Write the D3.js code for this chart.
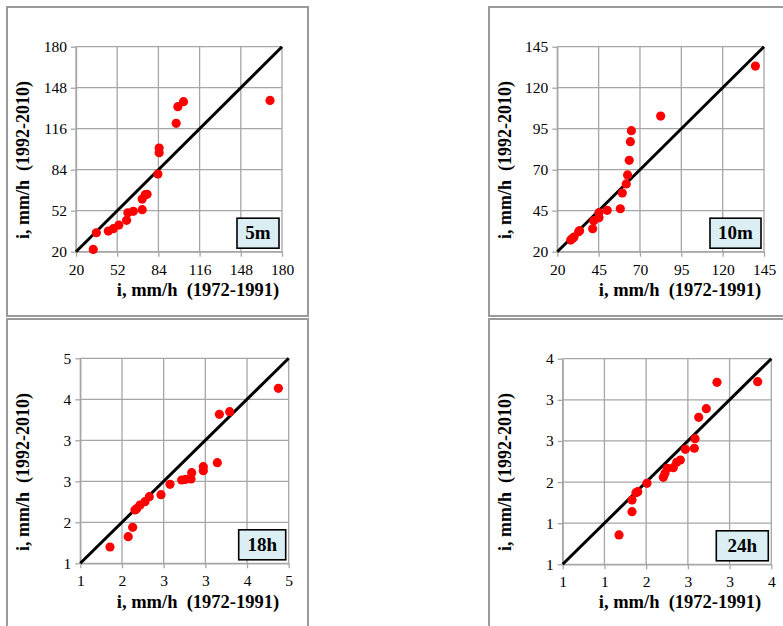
<!DOCTYPE html>
<html>
<head>
<meta charset="utf-8">
<script src="https://cdn.jsdelivr.net/npm/d3@7"></script>
<style>
  body { margin: 0; background: #fff; }
</style>
</head>
<body>
<script>
// Panel labels and axis ticks
const labels = ['5m', '10m', '18h', '24h'];
const ticks5m = [20, 52, 84, 116, 148, 180];
const ticks10m = [20, 45, 70, 95, 120, 145];
const ticks18h = [1, 1.8, 2.6, 3.4, 4.2, 5];
const ticks24h = [0.8, 1.4, 2.0, 2.6, 3.2, 3.8];

// i, mm/h (1972-1991) vs i, mm/h (1992-2010)
const x5m = [33.4, 35.8, 45.1, 49.0, 53.3, 59.3, 60.3, 64.5, 71.4, 71.4, 73.8, 75.2, 83.6, 84.6, 84.6, 97.8, 99.1, 103.5, 170.7];
const y5m = [21.8, 34.8, 36.1, 38.0, 40.8, 44.5, 50.4, 51.5, 52.8, 61.1, 64.5, 64.8, 80.6, 97.3, 100.9, 120.2, 133.2, 137.1, 138.1];

const x10m = [28.1, 29.2, 30.1, 32.9, 33.5, 41.4, 42.0, 45.2, 45.2, 50.2, 58.1, 59.3, 61.7, 62.5, 63.5, 64.2, 64.8, 82.5, 139.8];
const y10m = [27.1, 28.0, 28.9, 32.2, 32.8, 34.0, 38.9, 40.7, 43.8, 45.2, 46.2, 55.8, 61.3, 66.8, 75.7, 87.1, 93.8, 102.7, 133.2];

const x18h = [1.57, 1.92, 2.005, 2.05, 2.082, 2.146, 2.242, 2.325, 2.549, 2.722, 2.946, 3.023, 3.125, 3.138, 3.361, 3.361, 3.63, 3.669, 3.867, 4.802];
const y18h = [1.318, 1.519, 1.702, 2.04, 2.066, 2.138, 2.202, 2.30, 2.339, 2.541, 2.625, 2.639, 2.645, 2.768, 2.807, 2.885, 2.963, 3.907, 3.959, 4.415];

const x24h = [1.61, 1.797, 1.797, 1.854, 1.879, 2.012, 2.247, 2.271, 2.305, 2.391, 2.44, 2.492, 2.564, 2.693, 2.703, 2.756, 2.865, 3.019, 3.604];
const y24h = [1.228, 1.568, 1.738, 1.845, 1.86, 1.981, 2.069, 2.128, 2.201, 2.21, 2.288, 2.322, 2.478, 2.493, 2.633, 2.945, 3.071, 3.456, 3.465];

const xTitle = 'i, mm/h  (1972-1991)';
const yTitle = 'i, mm/h  (1992-2010)';

const width = 783;
const height = 626;
const serif = 'Liberation Serif';

const svg = d3.select('body')
  .append('svg')
  .attr('width', width)
  .attr('height', height)
  .attr('font-family', serif);

// frame = outer box, plot = plot area, boxW = label box width
const panels = [
  { label: labels[0], ticks: ticks5m, xs: x5m, ys: y5m, fx: 7, fy: 7, plot: [76, 46.7, 282, 251.7], boxW: 42 },
  { label: labels[1], ticks: ticks10m, xs: x10m, ys: y10m, fx: 489, fy: 7, plot: [557.3, 46.7, 764, 251.7], boxW: 51 },
  { label: labels[2], ticks: ticks18h, xs: x18h, ys: y18h, fx: 7, fy: 319, plot: [80.3, 358.3, 288.7, 563.3], boxW: 47 },
  { label: labels[3], ticks: ticks24h, xs: x24h, ys: y24h, fx: 489, fy: 319, plot: [562.7, 358.7, 771.3, 564.3], boxW: 52 }
];

const fmt = d3.format('.0f');
const gridColor = '#a6a6a6';

panels.forEach(p => {
  const g = svg.append('g');

  // outer frame
  g.append('rect')
    .attr('x', p.fx)
    .attr('y', p.fy)
    .attr('width', 301)
    .attr('height', 309)
    .attr('fill', 'none')
    .attr('stroke', '#9a9a9a')
    .attr('stroke-width', 2);

  const [x0, y0, x1, y1] = p.plot;
  const lo = p.ticks[0], hi = p.ticks[p.ticks.length - 1];
  const x = d3.scaleLinear().domain([lo, hi]).range([x0, x1]);
  const y = d3.scaleLinear().domain([lo, hi]).range([y1, y0]);

  // grid
  g.selectAll('.vgrid')
    .data(p.ticks)
    .enter().append('line')
    .attr('x1', d => x(d)).attr('x2', d => x(d))
    .attr('y1', y0).attr('y2', y1)
    .attr('stroke', gridColor)
    .attr('stroke-width', 1.3);

  g.selectAll('.hgrid')
    .data(p.ticks)
    .enter().append('line')
    .attr('x1', x0).attr('x2', x1)
    .attr('y1', d => y(d)).attr('y2', d => y(d))
    .attr('stroke', gridColor)
    .attr('stroke-width', 1.3);

  // axes
  const xAxis = g.append('g')
    .attr('transform', `translate(0,${y1})`)
    .call(d3.axisBottom(x).tickValues(p.ticks).tickFormat(fmt).tickSizeInner(5).tickSizeOuter(0).tickPadding(7));
  const yAxis = g.append('g')
    .attr('transform', `translate(${x0},0)`)
    .call(d3.axisLeft(y).tickValues(p.ticks).tickFormat(fmt).tickSizeInner(5).tickSizeOuter(0).tickPadding(4));

  [xAxis, yAxis].forEach(a => {
    a.attr('font-family', serif).attr('font-size', 15.5);
    a.select('.domain').attr('stroke', gridColor).attr('stroke-width', 1.3);
    a.selectAll('.tick line').attr('stroke', gridColor).attr('stroke-width', 1.3);
    a.selectAll('.tick text').attr('fill', '#000');
  });

  // 1:1 line
  g.append('line')
    .attr('x1', x(lo)).attr('y1', y(lo))
    .attr('x2', x(hi)).attr('y2', y(hi))
    .attr('stroke', '#000')
    .attr('stroke-width', 3);

  // points
  g.selectAll('circle')
    .data(p.xs.map((v, i) => [v, p.ys[i]]))
    .enter().append('circle')
    .attr('cx', d => x(d[0]))
    .attr('cy', d => y(d[1]))
    .attr('r', 4.6)
    .attr('fill', '#ff0000');

  // label box
  const bx = x1 - 3 - p.boxW;
  const by = y1 - 3.5 - 30;
  g.append('rect')
    .attr('x', bx).attr('y', by)
    .attr('width', p.boxW).attr('height', 30)
    .attr('fill', '#dbeef4')
    .attr('stroke', '#000')
    .attr('stroke-width', 1.6);
  g.append('text')
    .attr('x', bx + p.boxW / 2)
    .attr('y', by + 21)
    .attr('text-anchor', 'middle')
    .attr('font-size', 19)
    .attr('font-weight', 'bold')
    .text(p.label);

  // axis titles
  g.append('text')
    .attr('x', p.fx + 191)
    .attr('y', p.fy + 289)
    .attr('text-anchor', 'middle')
    .attr('font-size', 18.5)
    .attr('font-weight', 'bold')
    .style('white-space', 'pre')
    .text(xTitle);

  g.append('text')
    .attr('transform', `translate(${p.fx + 22},${p.fy + 153}) rotate(-90)`)
    .attr('text-anchor', 'middle')
    .attr('font-size', 18)
    .attr('font-weight', 'bold')
    .style('white-space', 'pre')
    .text(yTitle);
});
</script>
</body>
</html>
